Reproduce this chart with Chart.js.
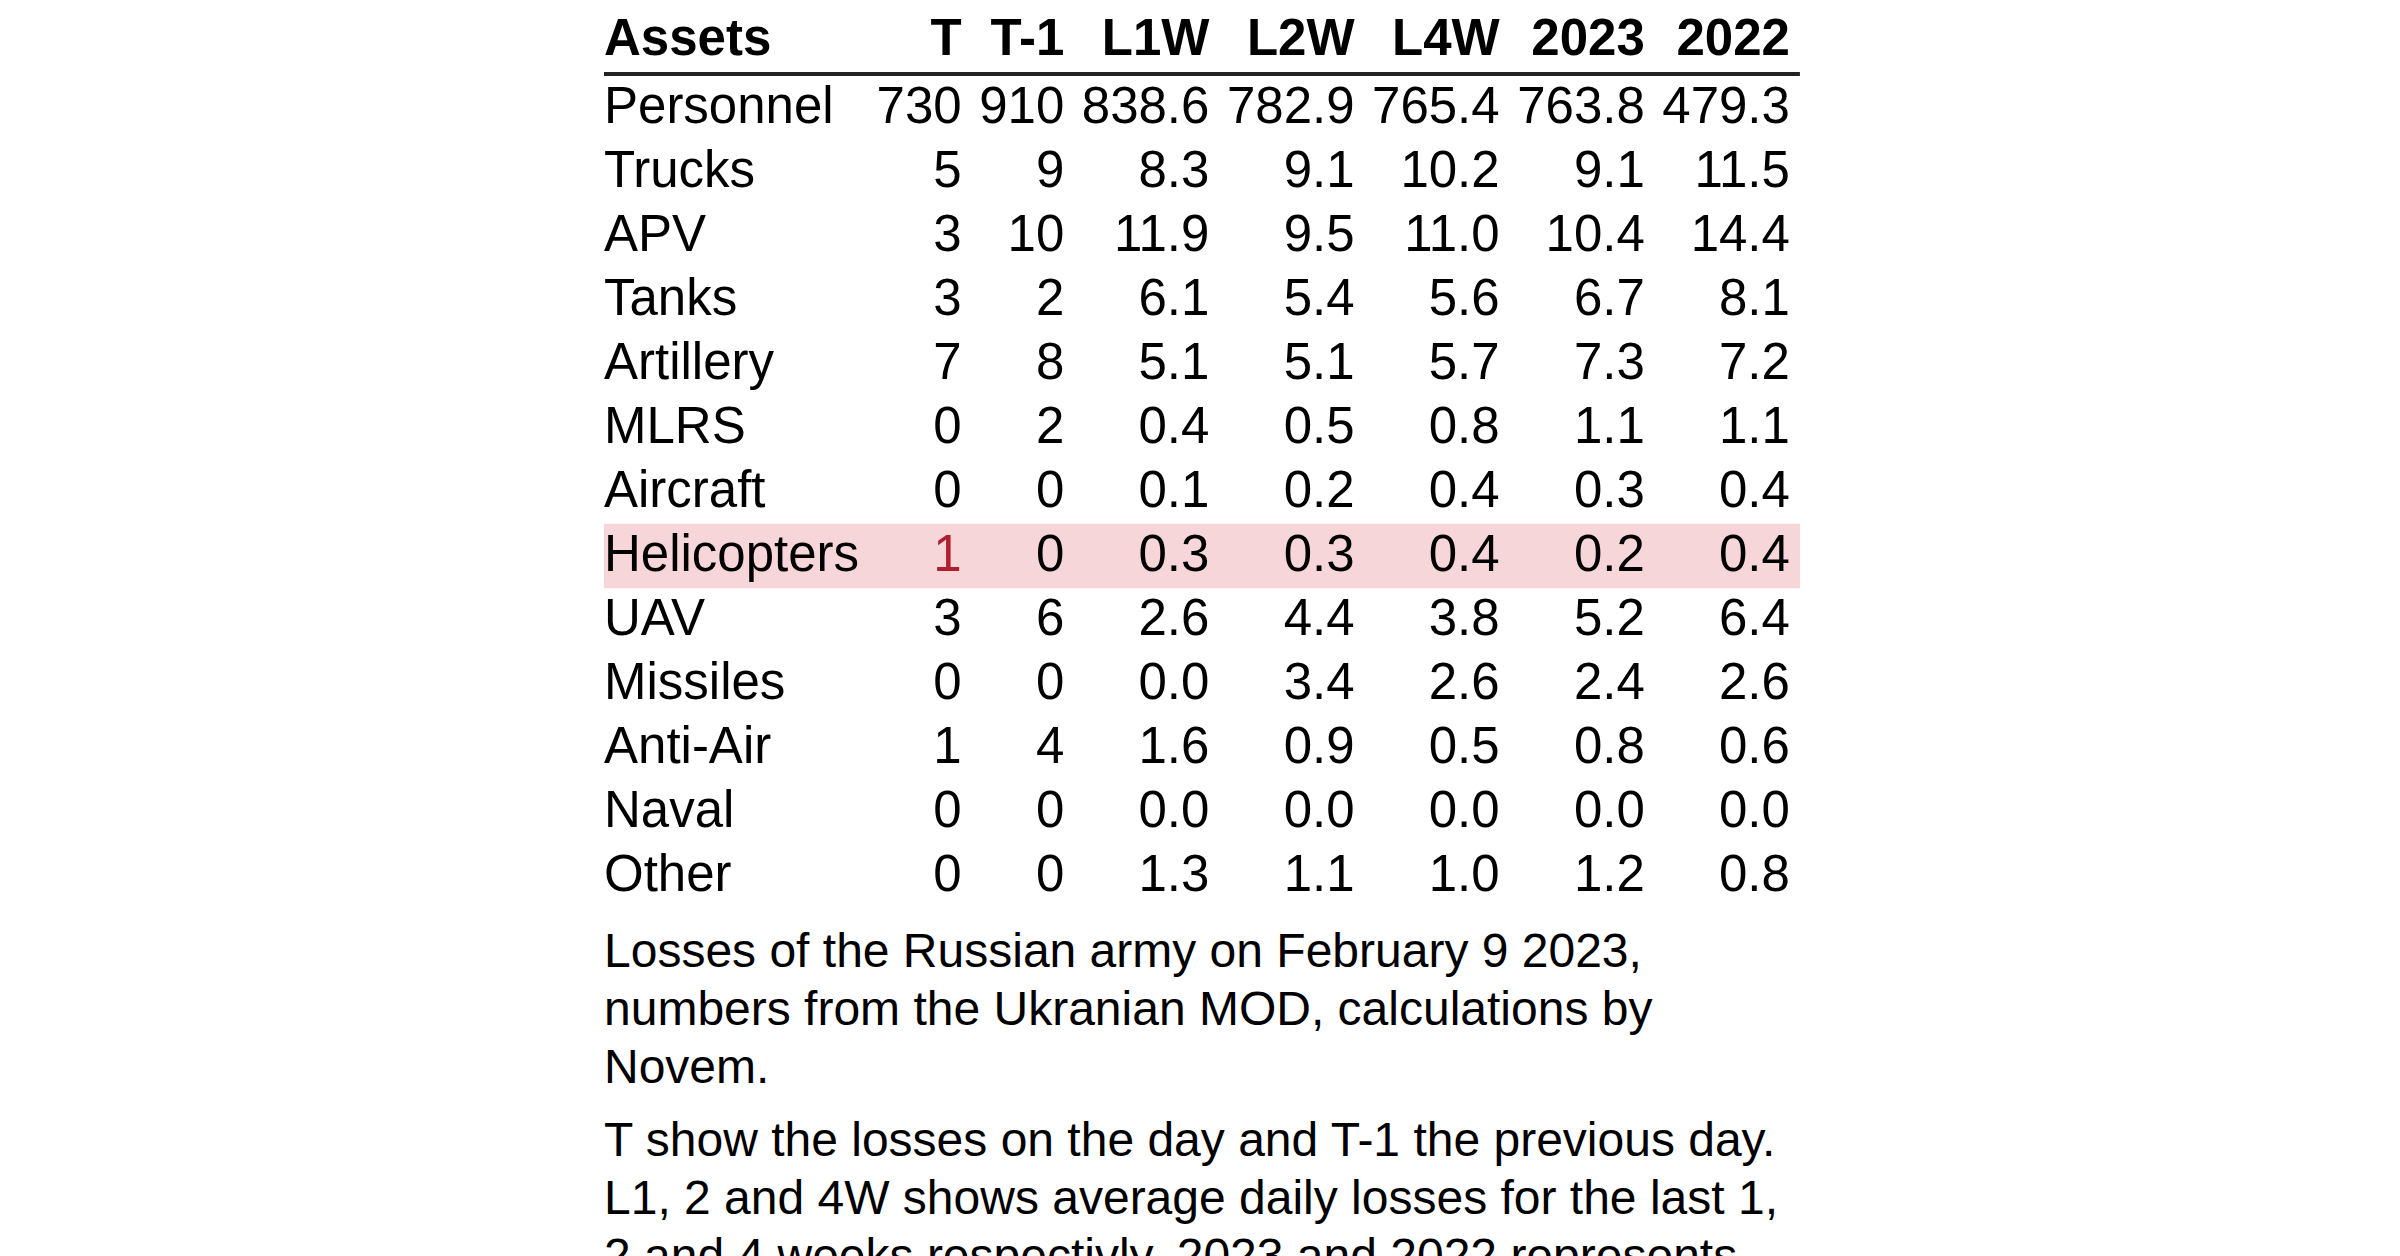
<!DOCTYPE html>
<html lang="en">
<head>
    <meta charset="UTF-8">
    <title>Russian army losses</title>
    <style>
        body, html {
            margin: 0;
            padding: 0;
            width: 2400px;
            height: 1256px;
            overflow: hidden;
            background: #ffffff;
            font-family: "Liberation Sans", Arial, sans-serif;
        }

        .table-box {
            position: absolute;
            left: 0;
            top: 0;
            width: 2400px;
            height: 910px;
        }

        .caption {
            position: absolute;
            left: 604px;
            top: 922px;
            width: 1196px;
            font-size: 48px;
            line-height: 58px;
            color: #000;
        }

        .caption p {
            margin: 0 0 15px 0;
        }
    </style>
</head>
<body>
    <div class="table-box">
        <canvas id="losses-table"></canvas>
    </div>

    <div class="caption">
        <p>Losses of the Russian army on February 9 2023, numbers from the Ukranian MOD, calculations by Novem.</p>
        <p>T show the losses on the day and T-1 the previous day. L1, 2 and 4W shows average daily losses for the last 1, 2 and 4 weeks respectivly. 2023 and 2022 represents the average daily losses for the respective years.</p>
    </div>

    <script src="https://cdn.jsdelivr.net/npm/chart.js"></script>
    <script>
        // Table data
        const assets = ['Personnel', 'Trucks', 'APV', 'Tanks', 'Artillery', 'MLRS', 'Aircraft',
                        'Helicopters', 'UAV', 'Missiles', 'Anti-Air', 'Naval', 'Other'];
        const columns = ['T', 'T-1', 'L1W', 'L2W', 'L4W', '2023', '2022'];
        const columnDecimals = [0, 0, 1, 1, 1, 1, 1];

        const lossT    = [730, 5, 3, 3, 7, 0, 0, 1, 3, 0, 1, 0, 0];
        const lossT1   = [910, 9, 10, 2, 8, 2, 0, 0, 6, 0, 4, 0, 0];
        const avgL1W   = [838.6, 8.3, 11.9, 6.1, 5.1, 0.4, 0.1, 0.3, 2.6, 0.0, 1.6, 0.0, 1.3];
        const avgL2W   = [782.9, 9.1, 9.5, 5.4, 5.1, 0.5, 0.2, 0.3, 4.4, 3.4, 0.9, 0.0, 1.1];
        const avgL4W   = [765.4, 10.2, 11.0, 5.6, 5.7, 0.8, 0.4, 0.4, 3.8, 2.6, 0.5, 0.0, 1.0];
        const avg2023  = [763.8, 9.1, 10.4, 6.7, 7.3, 1.1, 0.3, 0.2, 5.2, 2.4, 0.8, 0.0, 1.2];
        const avg2022  = [479.3, 11.5, 14.4, 8.1, 7.2, 1.1, 0.4, 0.4, 6.4, 2.6, 0.6, 0.0, 0.8];

        const highlightRows = ['Helicopters'];

        const series = [lossT, lossT1, avgL1W, avgL2W, avgL4W, avg2023, avg2022];

        // Fonts and styling
        const FONT_FAMILY = '"Liberation Sans", Arial, sans-serif';
        const BODY_FONT = '51px ' + FONT_FAMILY;
        const HEAD_FONT = 'bold 51px ' + FONT_FAMILY;
        const CELL_GAP = 17.5;
        const RIGHT_PAD = 10;
        const TABLE_LEFT = 604;
        const TABLE_TOP = 76;
        const ROW_HEIGHT = 64;

        function cellText(col, row) {
            return series[col][row].toFixed(columnDecimals[col]);
        }

        // Column widths like an auto-sized html table
        const mctx = document.createElement('canvas').getContext('2d');
        function textWidth(str, font) {
            mctx.font = font;
            return mctx.measureText(str).width;
        }

        const colRight = [];
        let firstWidth = textWidth('Assets', HEAD_FONT);
        assets.forEach(a => { firstWidth = Math.max(firstWidth, textWidth(a, BODY_FONT)); });
        colRight.push(firstWidth);
        columns.forEach((c, j) => {
            let w = textWidth(c, HEAD_FONT);
            assets.forEach((a, i) => { w = Math.max(w, textWidth(cellText(j, i), BODY_FONT)); });
            colRight.push(colRight[colRight.length - 1] + CELL_GAP + w);
        });
        const tableMax = colRight[colRight.length - 1] + RIGHT_PAD;

        // Text cells, header and rule drawn over the scales
        const tableText = {
            id: 'tableText',
            afterDatasetsDraw(chart) {
                const { ctx, scales: { x, y } } = chart;
                ctx.save();

                // header
                ctx.fillStyle = '#000';
                ctx.font = HEAD_FONT;
                ctx.textBaseline = 'alphabetic';
                const headY = y.top - 21;
                ctx.textAlign = 'left';
                ctx.fillText('Assets', x.getPixelForValue(0), headY);
                ctx.textAlign = 'right';
                columns.forEach((c, j) => {
                    ctx.fillText(c, x.getPixelForValue(colRight[j + 1]), headY);
                });

                // rule under header
                ctx.fillStyle = '#222';
                const x0 = x.getPixelForValue(0);
                const x1 = x.getPixelForValue(tableMax);
                ctx.fillRect(x0, y.top - 4, x1 - x0, 4);

                // body rows
                ctx.font = BODY_FONT;
                assets.forEach((a, i) => {
                    const base = y.getPixelForValue(i) + 15;
                    ctx.fillStyle = '#000';
                    ctx.textAlign = 'left';
                    ctx.fillText(a, x0, base);
                    ctx.textAlign = 'right';
                    columns.forEach((c, j) => {
                        const hot = j === 0 && highlightRows.includes(a);
                        ctx.fillStyle = hot ? '#b11f2e' : '#000';
                        ctx.fillText(cellText(j, i), x.getPixelForValue(colRight[j + 1]), base);
                    });
                });

                ctx.restore();
            }
        };

        const ctx = document.getElementById('losses-table').getContext('2d');
        new Chart(ctx, {
            type: 'bar',
            data: {
                labels: assets,
                datasets: [{
                    label: 'Highlight',
                    data: assets.map(a => highlightRows.includes(a) ? [0, tableMax] : null),
                    backgroundColor: '#f7d6da',
                    borderWidth: 0,
                    borderSkipped: false,
                    barPercentage: 1,
                    categoryPercentage: 1
                }]
            },
            options: {
                indexAxis: 'y',
                responsive: true,
                maintainAspectRatio: false,
                devicePixelRatio: 1,
                animation: false,
                events: [],
                layout: {
                    padding: {
                        left: TABLE_LEFT,
                        right: 2400 - TABLE_LEFT - tableMax,
                        top: TABLE_TOP,
                        bottom: 910 - TABLE_TOP - ROW_HEIGHT * assets.length
                    }
                },
                scales: {
                    x: { type: 'linear', display: false, min: 0, max: tableMax },
                    y: { type: 'category', display: false, offset: true }
                },
                plugins: {
                    legend: { display: false },
                    tooltip: { enabled: false }
                }
            },
            plugins: [tableText]
        });
    </script>
</body>
</html>
